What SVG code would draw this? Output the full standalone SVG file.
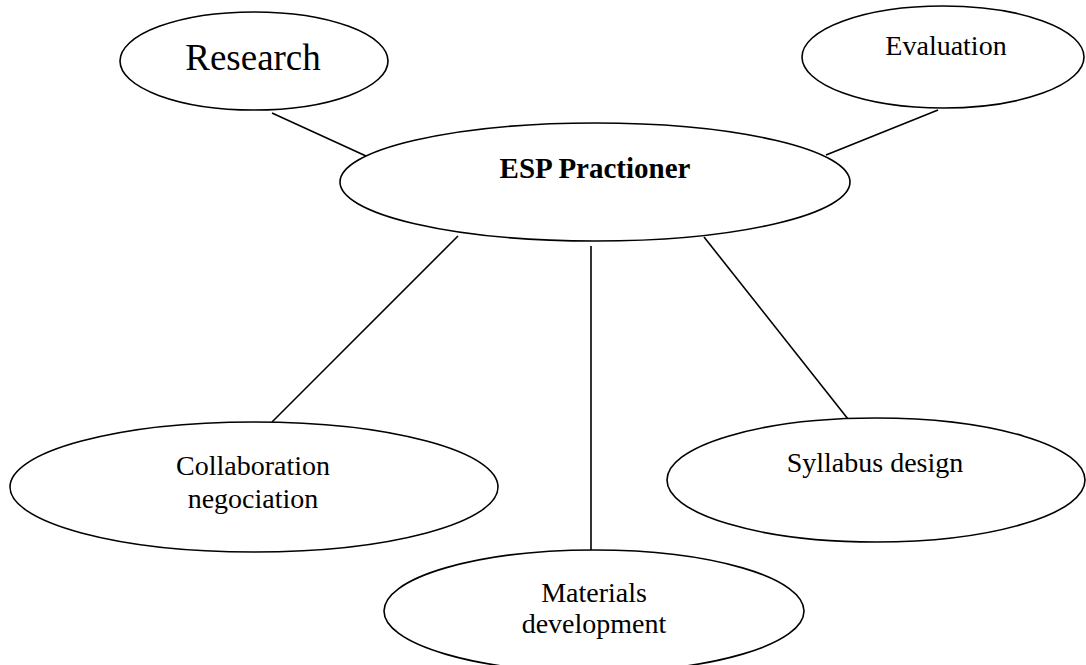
<svg xmlns="http://www.w3.org/2000/svg" width="1086" height="665" viewBox="0 0 1086 665">
<style>
.n{fill:#fff;stroke:#000;stroke-width:1.6}
.c line{stroke:#000;stroke-width:1.6}
.t{font-family:"Liberation Serif","Times New Roman",serif;font-size:28px;fill:#000;text-anchor:middle}
</style>
<rect width="1086" height="665" fill="#fff"/>
<g class="c" id="connectors">
<line x1="272" y1="113" x2="366" y2="156"/>
<line x1="938" y1="110" x2="826" y2="155"/>
<line x1="458" y1="236" x2="272" y2="422"/>
<line x1="591" y1="246" x2="591" y2="550"/>
<line x1="704" y1="237" x2="848" y2="419"/>
</g>
<g id="research"><ellipse class="n" cx="254" cy="61" rx="134" ry="49"/><text class="t" x="253" y="70" style="font-size:37px">Research</text></g>
<g id="evaluation"><ellipse class="n" cx="943" cy="57" rx="141" ry="51"/><text class="t" x="946" y="55">Evaluation</text></g>
<g id="esp"><ellipse class="n" cx="595" cy="182" rx="255" ry="59"/><text class="t" x="595" y="178" font-weight="bold" style="font-size:29px">ESP Practioner</text></g>
<g id="collaboration"><ellipse class="n" cx="254" cy="487" rx="244" ry="65"/><text class="t" x="253" y="475">Collaboration</text><text class="t" x="253" y="508">negociation</text></g>
<g id="syllabus"><ellipse class="n" cx="876" cy="480" rx="209" ry="62"/><text class="t" x="875" y="472">Syllabus design</text></g>
<g id="materials"><ellipse class="n" cx="594" cy="611" rx="210" ry="61"/><text class="t" x="594" y="602">Materials</text><text class="t" x="594" y="633">development</text></g>
</svg>
